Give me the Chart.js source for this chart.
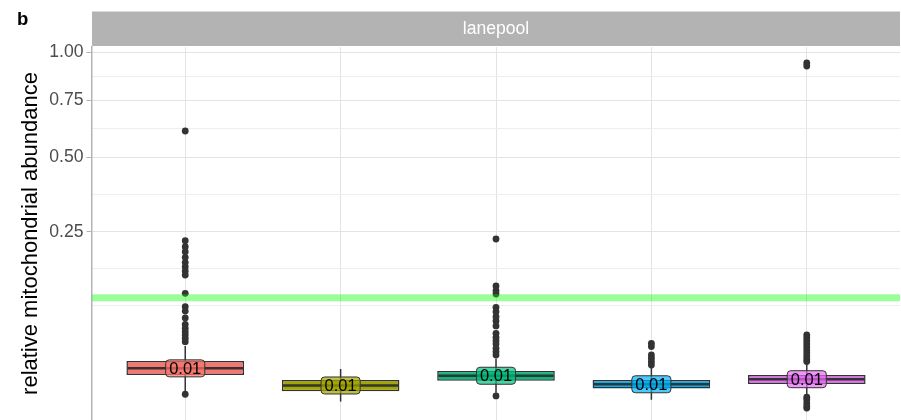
<!DOCTYPE html>
<html>
<head>
 <title>lanepool - relative mitochondrial abundance</title>
 <script src="https://cdn.jsdelivr.net/npm/chart.js"></script>
 <style>
  body { margin: 0; background: #fff; }
 </style>
</head>
<body>
 <canvas id="boxChart" width="901" height="420"></canvas>

 <script>
  // x labels are cut off in the figure, these are just placeholders
  const lanes = ['lane 1', 'lane 2', 'lane 3', 'lane 4', 'lane 5'];
  const fills = ['#F8766D', '#A3A500', '#00BF7D', '#00B0F6', '#E76BF3'];

  // box stats
  const whiskerLow  = [0.0031, 0.0007, 0.0026, 0.0010, 0.0023];
  const q1          = [0.0101, 0.0031, 0.0072, 0.0040, 0.0057];
  const medians     = [0.0142, 0.0051, 0.0097, 0.0056, 0.0079];
  const q3          = [0.0195, 0.0075, 0.0125, 0.0075, 0.0101];
  const whiskerHigh = [0.0330, 0.0138, 0.0215, 0.0151, 0.0180];

  const outliers1 = [0.6095, 0.2256, 0.2099, 0.1974, 0.1838, 0.1720, 0.1620, 0.1525, 0.1439,
                     0.1078, 0.0847, 0.0778, 0.0673, 0.0585, 0.0533, 0.0490, 0.0450, 0.0412, 0.0374, 0.0022];
  const outliers2 = [];
  const outliers3 = [0.2301, 0.1216, 0.1126, 0.1065, 0.0837, 0.0767, 0.0692, 0.0631, 0.0563,
                     0.0470, 0.0423, 0.0385, 0.0350, 0.0306, 0.0274, 0.0245, 0.0018];
  const outliers4 = [0.0357, 0.0324, 0.0245, 0.0217, 0.0190, 0.0165];
  const outliers5 = [0.9413, 0.9251, 0.0450, 0.0415, 0.0382, 0.0350, 0.0319, 0.0290, 0.0262,
                     0.0236, 0.0211, 0.0191, 0.0015, 0.0010, 0.0005, 0.0002, 0.00007];

  const yBreaks = [0.25, 0.50, 0.75, 1.00];
  const yMinorBreaks = [0.0866, 0.1584, 0.3643, 0.6187, 0.8705];
  const threshold = 0.1;

  const facet = 'lanepool';
  const tag = 'b';
  const yTitle = 'relative mitochondrial abundance';

  const FONT = "'Liberation Sans', Arial, sans-serif";
  const boxWidth = 0.757;
  const tr = v => Math.sqrt(v);   // sqrt transform of the y axis

  function withAlpha(hex, a) {
   const n = parseInt(hex.slice(1), 16);
   return `rgba(${n >> 16}, ${(n >> 8) & 255}, ${n & 255}, ${a})`;
  }

  const outlierPoints = [];
  [outliers1, outliers2, outliers3, outliers4, outliers5].forEach((arr, i) => {
   arr.forEach(v => outlierPoints.push({ x: i + 1, y: tr(v) }));
  });

  // strip, tag and the median labels
  const decor = {
   id: 'decor',
   beforeDraw(chart) {
    const { ctx, chartArea: a } = chart;
    ctx.save();
    ctx.fillStyle = '#fff';
    ctx.fillRect(0, 0, chart.width, chart.height);
    ctx.fillStyle = '#B3B3B3';
    ctx.fillRect(a.left, 11.5, a.right - a.left, 34.5);
    ctx.fillStyle = '#fff';
    ctx.font = '17.6px ' + FONT;
    ctx.textAlign = 'center';
    ctx.textBaseline = 'middle';
    ctx.fillText(facet, (a.left + a.right) / 2, 29);
    ctx.fillStyle = '#000';
    ctx.font = 'bold 18.5px ' + FONT;
    ctx.textAlign = 'left';
    ctx.textBaseline = 'alphabetic';
    ctx.fillText(tag, 17, 25);
    ctx.restore();
   },
   afterDatasetsDraw(chart) {
    const { ctx, scales: { x, y } } = chart;
    ctx.save();
    ctx.font = '16.5px ' + FONT;
    lanes.forEach((lane, i) => {
     const px = x.getPixelForValue(i + 1);
     const py = y.getPixelForValue(tr(medians[i]));
     const txt = medians[i].toFixed(2);
     const w = ctx.measureText(txt).width + 7, h = 17;
     ctx.beginPath();
     ctx.roundRect(px - w / 2, py - h / 2, w, h, 3.5);
     ctx.fillStyle = withAlpha(fills[i], 0.7);
     ctx.fill();
     ctx.lineWidth = 1;
     ctx.strokeStyle = '#333';
     ctx.stroke();
     ctx.fillStyle = '#000';
     ctx.textAlign = 'center';
     ctx.textBaseline = 'middle';
     ctx.fillText(txt, px, py + 1);
    });
    ctx.restore();
   }
  };

  const ctx = document.getElementById('boxChart').getContext('2d');
  const chart = new Chart(ctx, {
   type: 'bar',
   data: {
    datasets: [
     {
      // whiskers
      type: 'bar',
      data: lanes.map((l, i) => ({ x: i + 1, y: [tr(whiskerLow[i]), tr(whiskerHigh[i])] })),
      backgroundColor: '#333333',
      grouped: false,
      maxBarThickness: 1.5,
      order: 5
     },
     {
      // boxes
      type: 'bar',
      data: lanes.map((l, i) => ({ x: i + 1, y: [tr(q1[i]), tr(q3[i])] })),
      backgroundColor: fills,
      borderColor: '#333333',
      borderWidth: 1.5,
      borderSkipped: false,
      grouped: false,
      barPercentage: boxWidth,
      categoryPercentage: 1,
      order: 3
     },
     {
      type: 'scatter',
      data: outlierPoints,
      backgroundColor: '#333333',
      borderWidth: 0,
      pointRadius: 3.4,
      order: 4
     },
     {
      // medians
      type: 'scatter',
      data: lanes.map((l, i) => ({ x: i + 1, y: tr(medians[i]) })),
      pointStyle: 'line',
      borderColor: '#333333',
      borderWidth: 2.5,
      pointRadius: c => {
       const xs = c.chart.scales.x;
       return xs.getPixelForValue(1 + boxWidth / 2) - xs.getPixelForValue(1) - 1;
      },
      order: 2
     },
     {
      type: 'line',
      data: [{ x: 0.4, y: tr(threshold) }, { x: 5.6, y: tr(threshold) }],
      borderColor: 'rgba(0, 255, 0, 0.4)',
      borderWidth: 7,
      pointRadius: 0,
      order: 1
     }
    ]
   },
   options: {
    responsive: false,
    animation: false,
    layout: { autoPadding: false, padding: { top: 47, right: 1, bottom: 0, left: 0 } },
    plugins: {
     legend: { display: false },
     tooltip: { enabled: false }
    },
    scales: {
     x: {
      type: 'linear',
      min: 0.4,
      max: 5.6,
      offset: false,
      afterBuildTicks: s => { s.ticks = lanes.map((l, i) => ({ value: i + 1 })); },
      afterFit: s => { s.height = 0; s.paddingLeft = 0; s.paddingRight = 0; },
      ticks: { display: false },
      grid: { color: '#E3E3E3', lineWidth: 1, drawTicks: false, offset: false },
      border: { display: false }
     },
     y: {
      type: 'linear',
      min: -0.0248,
      max: 1.0148,
      afterBuildTicks: s => {
       const t = yBreaks.map(v => ({ value: tr(v) }));
       yMinorBreaks.forEach(v => t.push({ value: tr(v), minor: true }));
       t.sort((a, b) => a.value - b.value);
       s.ticks = t;
      },
      afterFit: s => { s.width = 92; s.paddingBottom = 0; s.paddingTop = 0; },
      ticks: {
       autoSkip: false,
       padding: 3,
       color: '#4D4D4D',
       font: { family: FONT, size: 17.6 },
       callback: function (value, index, ticks) {
        return ticks[index].minor ? '' : (value * value).toFixed(2);
       }
      },
      grid: {
       color: c => (c.tick && c.tick.minor) ? '#EEEEEE' : '#E3E3E3',
       tickColor: c => (c.tick && c.tick.minor) ? 'rgba(0,0,0,0)' : '#B3B3B3',
       tickLength: 5.5,
       lineWidth: 1
      },
      border: { display: true, color: '#B3B3B3', width: 1.5 },
      title: {
       display: true,
       text: yTitle,
       color: '#000',
       font: { family: FONT, size: 22 },
       padding: { top: 18, bottom: 0 }
      }
     }
    }
   },
   plugins: [decor]
  });
 </script>
</body>
</html>
